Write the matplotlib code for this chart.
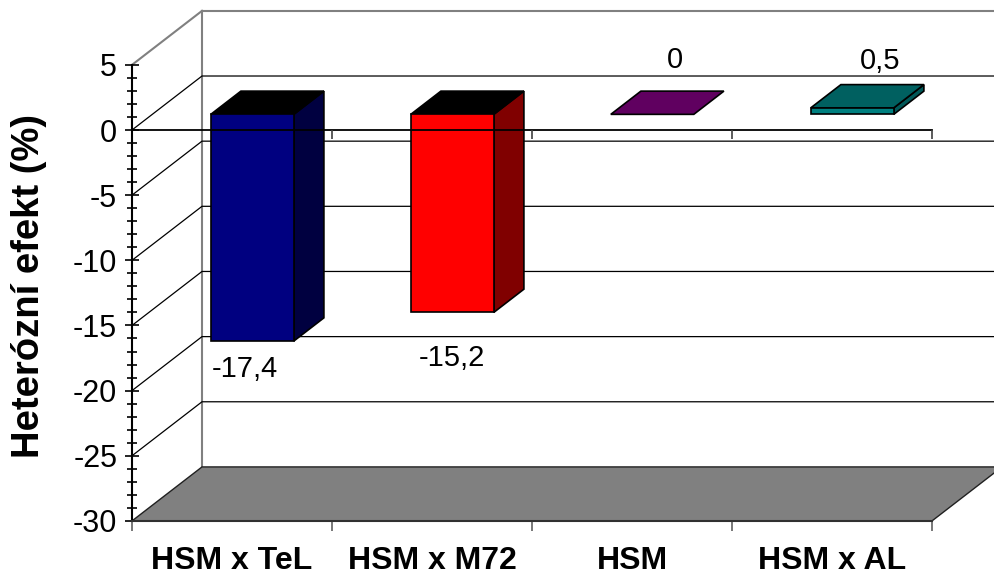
import matplotlib
matplotlib.use('Agg')
from matplotlib import pyplot as plt
from matplotlib.ticker import FixedLocator

plt.rcParams['font.family'] = ['Liberation Sans', 'DejaVu Sans']
plt.rcParams['axes.unicode_minus'] = False

#======+
# Data |
#======+
categories = ['HSM x TeL', 'HSM x M72', 'HSM', 'HSM x AL']
values = [-17.4, -15.2, 0, 0.5]
y_ticks = [-30, -25, -20, -15, -10, -5, 0, 5]

# front / side / top face colours of each bar
front_colors = ['#000080', '#FF0000', '#660066', '#008080']
side_colors = ['#000040', '#800000', '#400040', '#005858']
top_colors = ['#000000', '#000000', '#600060', '#006060']

# label offsets in pixels from the bar value point
label_offsets = [(13, -12), (20, -30), (43, 70), (48, 62)]

#==========================+
# Oblique 3D style helpers |
#==========================+
DX, DY = 0.35, 4.144          # depth offset of the back wall in data units
Z0, Z1 = 0.29, 0.72           # depth span of the bars
BAR_W = 0.415
YMIN, YMAX = -30, 5


def proj(x, y, z):
    return x + z * DX, y + z * DY


def face(ax, pts, color, zorder=3):
    xs, ys = zip(*[proj(*p) for p in pts])
    ax.fill(xs, ys, facecolor=color, edgecolor='black', lw=1.2, zorder=zorder)


fig = plt.figure(figsize=(9.95, 5.75), dpi=100)
ax = fig.add_axes([0, 0, 1, 1])
ax.set_xlim(-0.66, 4.315)
ax.set_ylim(-34.15, 9.977)
ax.patch.set_visible(False)

# back wall + left wall outlines
ax.plot([0, DX], [YMAX, YMAX + DY], color='#808080', lw=1.5, zorder=1)
ax.plot([DX, DX], [YMIN + DY, YMAX + DY], color='#808080', lw=1.5, zorder=1)
ax.plot([DX, 4 + DX], [YMAX + DY, YMAX + DY], color='#808080', lw=1.5, zorder=1)

# gridlines on back wall and their diagonals on the side wall
for v in y_ticks[1:-1]:
    ax.plot([0, DX, 4 + DX], [v, v + DY, v + DY], color='black', lw=0.9, zorder=1)

# floor
fx = [0, 4, 4 + DX, DX]
fy = [YMIN, YMIN, YMIN + DY, YMIN + DY]
ax.fill(fx, fy, facecolor='#808080', edgecolor='#202020', lw=1, zorder=1.5)

# bars
for i, v in enumerate(values):
    xc = i + 0.5
    xl, xr = xc - BAR_W / 2, xc + BAR_W / 2
    lo, hi = min(0, v), max(0, v)
    if hi > lo:
        face(ax, [(xr, lo, Z0), (xr, lo, Z1), (xr, hi, Z1), (xr, hi, Z0)], side_colors[i])
    face(ax, [(xl, hi, Z0), (xr, hi, Z0), (xr, hi, Z1), (xl, hi, Z1)], top_colors[i])
    if hi > lo:
        face(ax, [(xl, lo, Z0), (xr, lo, Z0), (xr, hi, Z0), (xl, hi, Z0)], front_colors[i])

    txt = f'{v:g}'.replace('.', ',')
    ax.annotate(txt, xy=(xc, v), xytext=label_offsets[i], textcoords='offset pixels',
                ha='center', va='center', fontsize=21, zorder=5)

# category axis at zero drawn over the bars
ax.plot([0, 4], [0, 0], color='black', lw=1.3, zorder=4)
ax.vlines([1, 2, 3, 4], -0.7, 0, color='#404040', lw=1.2, zorder=4)

#================+
# Axis settings  |
#================+
for s in ['top', 'right']:
    ax.spines[s].set_visible(False)
ax.spines['left'].set_position(('data', 0))
ax.spines['left'].set_bounds(YMIN, YMAX)
ax.spines['left'].set_linewidth(1.5)
ax.spines['bottom'].set_position(('data', YMIN))
ax.spines['bottom'].set_bounds(0, 4)
ax.spines['bottom'].set_color('#303030')
ax.spines['bottom'].set_linewidth(1.5)

ax.yaxis.set_major_locator(FixedLocator(y_ticks))
ax.yaxis.set_minor_locator(FixedLocator(range(YMIN, YMAX + 1)))
ax.tick_params(axis='y', which='major', direction='inout', length=9.4, width=1.2,
               pad=6, labelsize=22)
ax.tick_params(axis='y', which='minor', direction='inout', length=7, width=1.2)

ax.set_xticks([0, 1, 2, 3, 4], [''] * 5)
ax.set_xticks([0.5, 1.5, 2.5, 3.5], categories, minor=True, fontsize=23, fontweight='bold')
ax.tick_params(axis='x', which='major', direction='out', length=7, width=1.2, colors='#606060')
ax.tick_params(axis='x', which='minor', length=0, pad=18)

fig.text(29 / 995, 1 - 286 / 575, 'Heterózní efekt (%)', rotation=90, ha='center', va='center',
         fontsize=27.5, fontweight='bold')

plt.savefig('out.png', dpi=100)
